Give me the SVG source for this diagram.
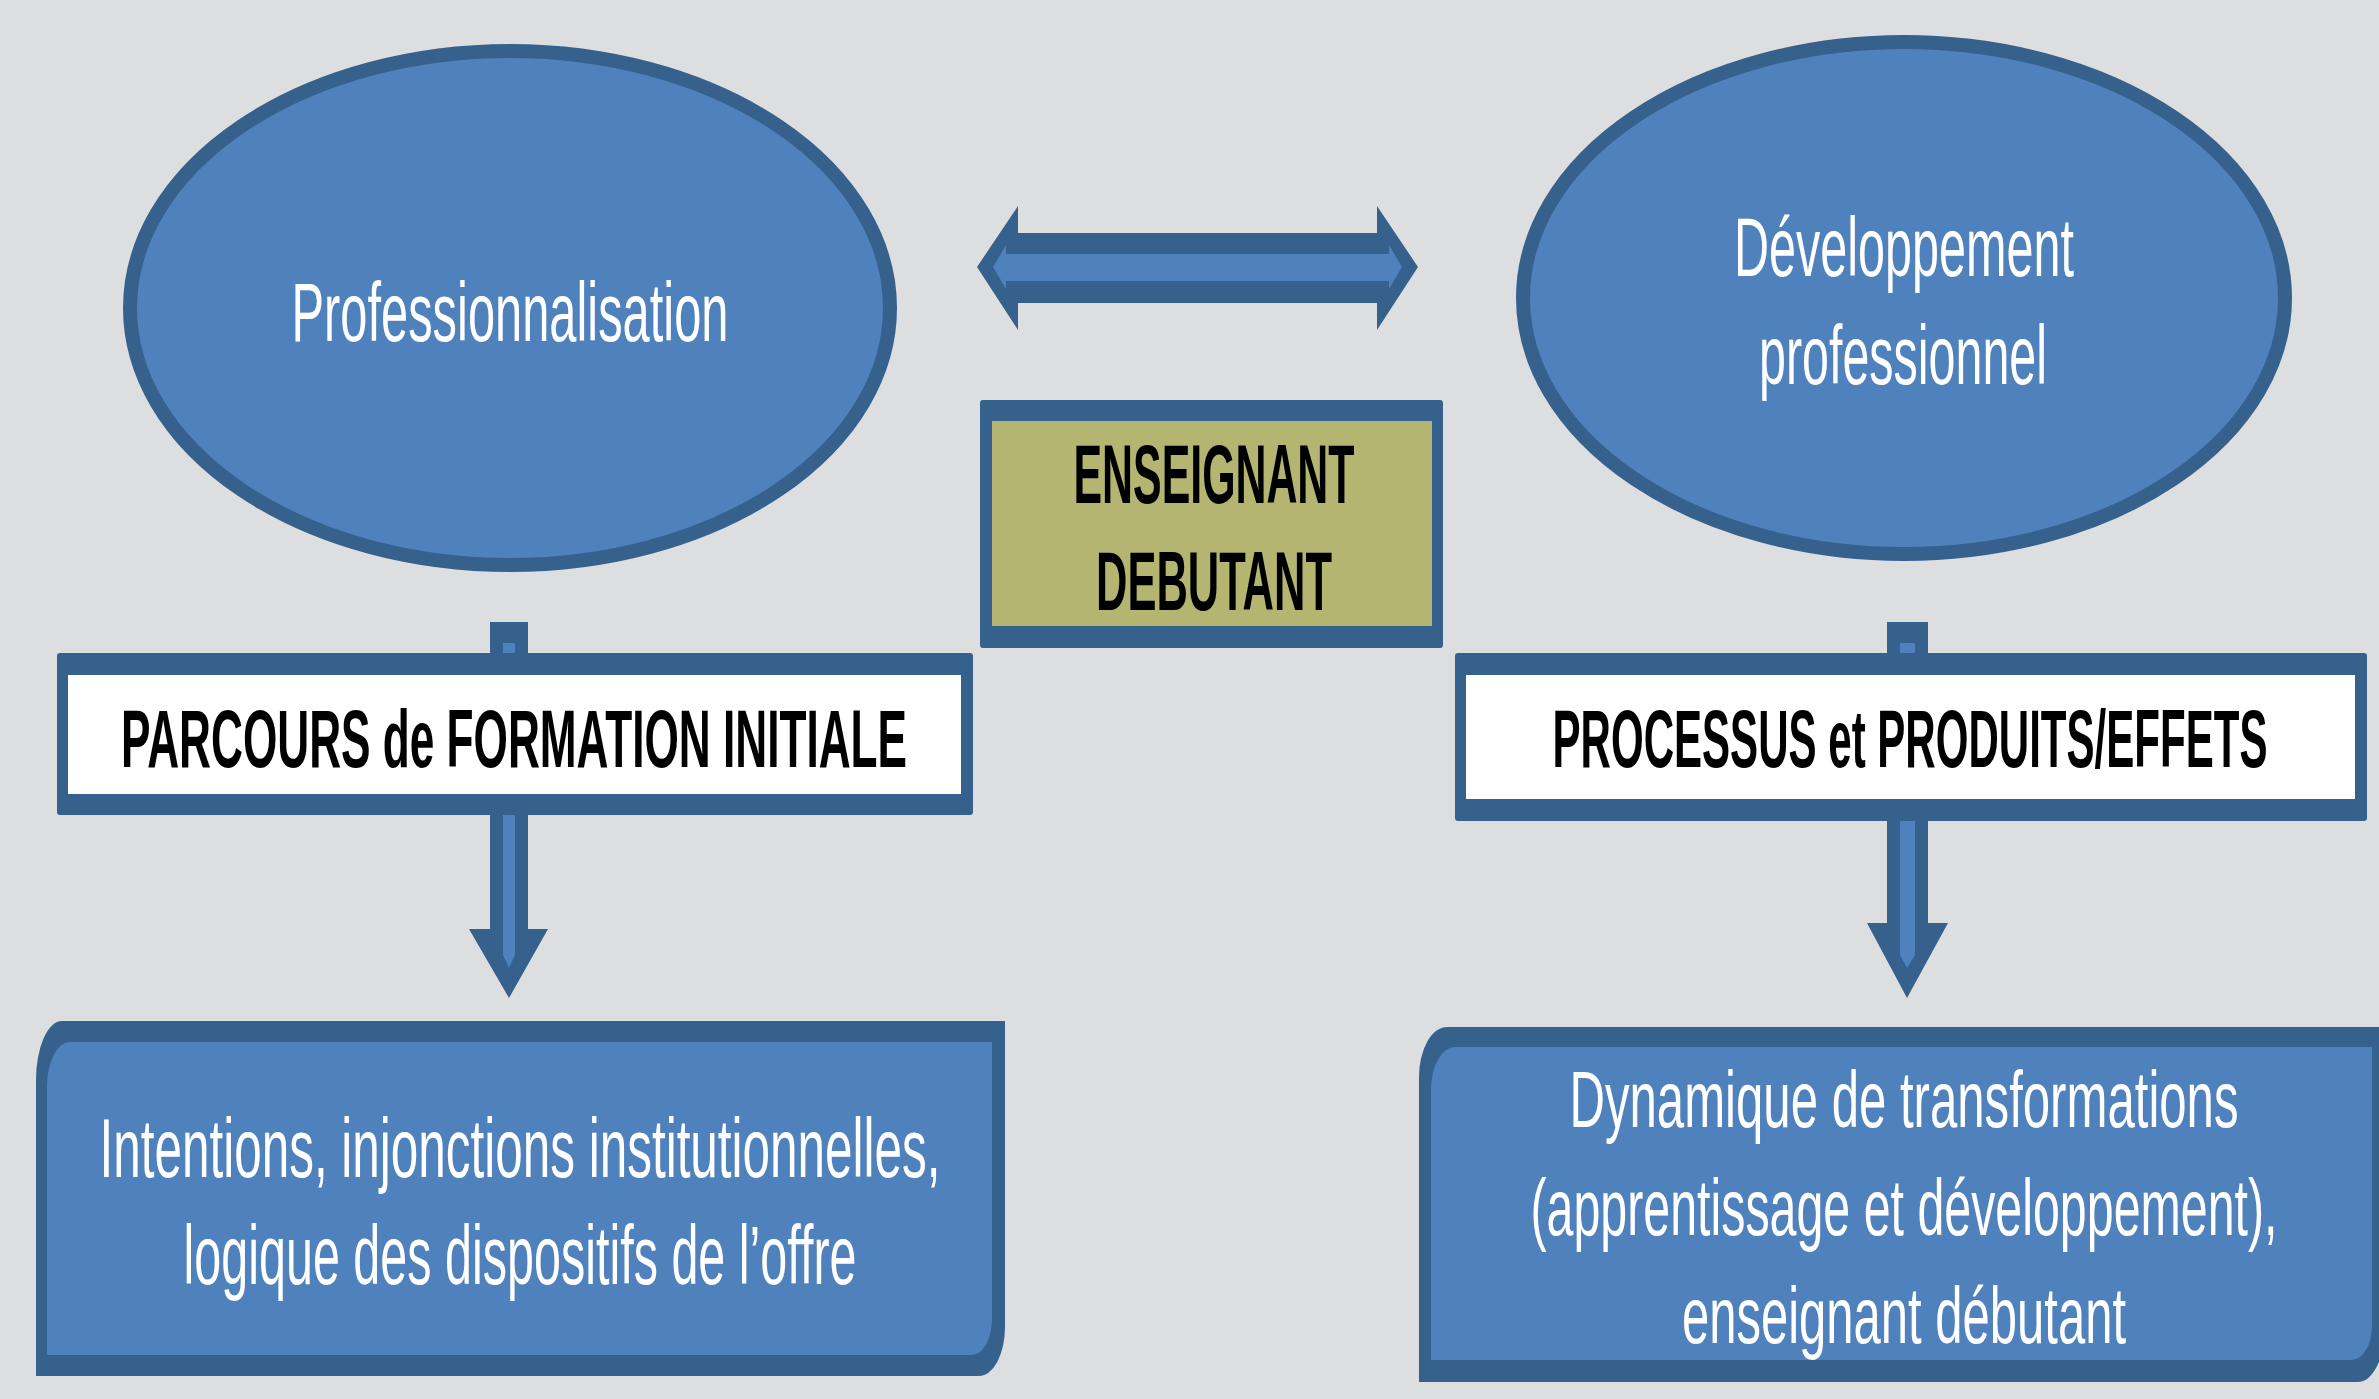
<svg xmlns="http://www.w3.org/2000/svg" width="2379" height="1399" viewBox="0 0 2379 1399">
  <style>
    .bg { fill: #dcdee0; }
    .ell { fill: #4f81bd; stroke: #36618d; stroke-width: 14; }
    .dark { fill: #36618d; }
    .light { fill: #4f81bd; }
    .white { fill: #ffffff; }
    .olive { fill: #b4b570; }
    .wt { font-family: "Liberation Sans", Arial, sans-serif; fill: #ffffff; text-anchor: middle; }
    .bt { font-family: "Liberation Sans", Arial, sans-serif; font-weight: bold; fill: #000000; text-anchor: middle; }
  </style>
  <rect class="bg" x="0" y="0" width="2379" height="1399"/>

  <g id="connectors">
    <g id="double-arrow">
      <polygon class="dark" points="977,267 1018,206 1018,233 1377,233 1377,206 1418,267 1377,330 1377,303 1018,303 1018,330"/>
      <polygon class="light" points="993,267 1006,245 1006,254 1389,254 1389,245 1402,267 1389,289 1389,281 1006,281 1006,289"/>
    </g>
    <g id="arrow-left-down">
      <polygon class="dark" points="490,622 528,622 528,929 548,929 509,998 469,929 490,929"/>
      <polygon class="light" points="503,643 515,643 515,955 509,968 503,955"/>
    </g>
    <g id="arrow-right-down">
      <polygon class="dark" points="1887,622 1928,622 1928,923 1948,923 1907,998 1867,923 1887,923"/>
      <polygon class="light" points="1900,643 1915,643 1915,955 1907,968 1900,955"/>
    </g>
  </g>

  <g id="node-professionnalisation">
    <ellipse class="ell" cx="510" cy="308" rx="380" ry="257"/>
    <text class="wt" transform="translate(510,341) scale(1,1.72)" x="0" y="0" font-size="48.8" textLength="437" lengthAdjust="spacingAndGlyphs">Professionnalisation</text>
  </g>

  <g id="node-developpement">
    <ellipse class="ell" cx="1904" cy="298" rx="381" ry="256"/>
    <text class="wt" transform="translate(1904,276) scale(1,1.728)" x="0" y="0" font-size="48.5" textLength="340" lengthAdjust="spacingAndGlyphs">Développement</text>
    <text class="wt" transform="translate(1903,384) scale(1,1.728)" x="0" y="0" font-size="48.5" textLength="288" lengthAdjust="spacingAndGlyphs">professionnel</text>
  </g>

  <g id="node-enseignant">
    <rect class="dark" x="980" y="400" width="463" height="248" rx="3"/>
    <rect class="olive" x="992" y="421" width="440" height="205"/>
    <text class="bt" transform="translate(1214,503) scale(1,1.953)" x="0" y="0" font-size="42.9" textLength="281" lengthAdjust="spacingAndGlyphs">ENSEIGNANT</text>
    <text class="bt" transform="translate(1214,610) scale(1,1.953)" x="0" y="0" font-size="42.9" textLength="236" lengthAdjust="spacingAndGlyphs">DEBUTANT</text>
  </g>

  <g id="node-parcours">
    <rect class="dark" x="57" y="653" width="916" height="162" rx="3"/>
    <rect class="white" x="68" y="675" width="893" height="119"/>
    <text class="bt" transform="translate(514,767) scale(1,1.881)" x="0" y="0" font-size="43.8" textLength="786" lengthAdjust="spacingAndGlyphs">PARCOURS de FORMATION INITIALE</text>
  </g>

  <g id="node-processus">
    <rect class="dark" x="1455" y="653" width="912" height="168" rx="3"/>
    <rect class="white" x="1466" y="675" width="889" height="124"/>
    <text class="bt" transform="translate(1910,767) scale(1,1.96)" x="0" y="0" font-size="42.05" textLength="715" lengthAdjust="spacingAndGlyphs">PROCESSUS et PRODUITS/EFFETS</text>
  </g>

  <g id="node-intentions">
    <path class="dark" d="M62,1021 L1005,1021 L1005,1327 A26,49 0 0 1 979,1376 L36,1376 L36,1080 A26,59 0 0 1 62,1021 Z"/>
    <path class="light" d="M70,1042 L992,1042 L992,1318 A20,37 0 0 1 972,1355 L47,1355 L47,1086 A23,44 0 0 1 70,1042 Z"/>
    <text class="wt" transform="translate(520,1177) scale(1,1.695)" x="0" y="0" font-size="49.4" textLength="841" lengthAdjust="spacingAndGlyphs">Intentions, injonctions institutionnelles,</text>
    <text class="wt" transform="translate(520,1284) scale(1,1.695)" x="0" y="0" font-size="49.4" textLength="673" lengthAdjust="spacingAndGlyphs">logique des dispositifs de l’offre</text>
  </g>

  <g id="node-dynamique">
    <path class="dark" d="M1447,1027 L2384,1027 L2384,1332 A26,50 0 0 1 2358,1382 L1419,1382 L1419,1077 A28,50 0 0 1 1447,1027 Z"/>
    <path class="light" d="M1455,1047 L2372,1047 L2372,1325 A20,35 0 0 1 2352,1360 L1431,1360 L1431,1090 A24,43 0 0 1 1455,1047 Z"/>
    <text class="wt" transform="translate(1904,1127) scale(1,1.625)" x="0" y="0" font-size="49" textLength="669" lengthAdjust="spacingAndGlyphs">Dynamique de transformations</text>
    <text class="wt" transform="translate(1904,1235) scale(1,1.625)" x="0" y="0" font-size="49" textLength="747" lengthAdjust="spacingAndGlyphs">(apprentissage et développement),</text>
    <text class="wt" transform="translate(1904,1343) scale(1,1.625)" x="0" y="0" font-size="49" textLength="444" lengthAdjust="spacingAndGlyphs">enseignant débutant</text>
  </g>
</svg>
